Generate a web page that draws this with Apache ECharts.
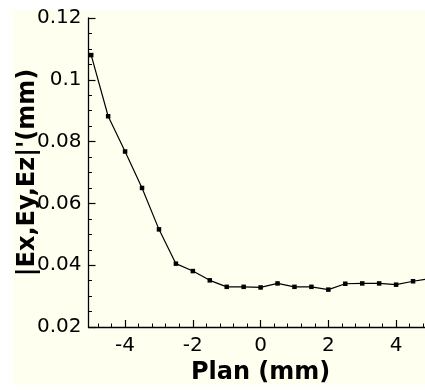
<!DOCTYPE html>
<html>
<head>
<meta charset="utf-8">
<script src="https://cdn.jsdelivr.net/npm/echarts@6/dist/echarts.min.js"></script>
<style>
html,body{margin:0;padding:0;background:#ffffff;}
#chart{width:425px;height:390px;}
</style>
</head>
<body>
<div id="chart"></div>
<script>
// Data
const planX = [-5, -4.5, -4, -3.5, -3, -2.5, -2, -1.5, -1, -0.5, 0, 0.5, 1, 1.5, 2, 2.5, 3, 3.5, 4, 4.5, 5];
const errValues = [0.108, 0.0882, 0.0768, 0.065, 0.0516, 0.0405, 0.0381, 0.0351, 0.033, 0.033, 0.0328, 0.0341, 0.033, 0.033, 0.0321, 0.034, 0.0341, 0.0341, 0.0337, 0.0348, 0.0357];
const xTickValues = [-4, -2, 0, 2, 4];
const xTickLabels = ['-4', '-2', '0', '2', '4'];
const xMinorTicks = [-4.8, -4.4, -3.6, -3.2, -2.8, -2.4, -1.6, -1.2, -0.8, -0.4, 0.4, 0.8, 1.2, 1.6, 2.4, 2.8, 3.2, 3.6, 4.4, 4.8];
const yTickLabels = ['0.02', '0.04', '0.06', '0.08', '0.1', '0.12'];
const xTitle = 'Plan (mm)';
const yTitle = "|Ex,Ey,Ez|'(mm)";

const seriesData = planX.map((x, i) => [x, errValues[i]]);

const chart = echarts.init(document.getElementById('chart'), null, {renderer: 'canvas'});
const labelFont = {fontFamily: 'DejaVu Sans', fontSize: 20, color: '#000'};
const titleFont = {fontFamily: 'DejaVu Sans', fontSize: 24, fontWeight: 'bold', color: '#000'};

chart.setOption({
  animation: false,
  backgroundColor: '#ffffff',
  graphic: [{
    type: 'rect', z: -100, silent: true,
    shape: {x: 13, y: 10, width: 412, height: 375},
    style: {fill: '#fffff0'}
  }],
  grid: {left: 88.5, top: 18, bottom: 63, right: -7.7, containLabel: false, outerBoundsMode: 'none'},
  xAxis: [{
    type: 'value', min: -5.08, max: 5.08,
    name: xTitle, nameLocation: 'middle', nameGap: 31,
    nameTextStyle: titleFont,
    axisLine: {show: true, onZero: false, lineStyle: {color: '#000', width: 1.3}},
    axisTick: {show: true, inside: true, length: 7, customValues: xTickValues, lineStyle: {color: '#000', width: 1.2}},
    axisLabel: Object.assign({margin: 9, customValues: xTickValues,
      formatter: (v) => xTickLabels[xTickValues.indexOf(v)]}, labelFont),
    splitLine: {show: false}
  }, {
    type: 'value', min: -5.08, max: 5.08, position: 'bottom',
    axisLine: {show: false},
    axisTick: {show: true, inside: true, length: 3.5, customValues: xMinorTicks, lineStyle: {color: '#000', width: 1}},
    axisLabel: {show: false},
    splitLine: {show: false}
  }],
  yAxis: {
    type: 'value', min: 0.02, max: 0.12, interval: 0.02,
    name: yTitle, nameLocation: 'middle', nameGap: 49, nameMoveOverlap: false,
    nameTextStyle: titleFont,
    axisLine: {show: true, onZero: false, lineStyle: {color: '#000', width: 1.3}},
    axisTick: {show: true, inside: true, length: 7, lineStyle: {color: '#000', width: 1.2}},
    minorTick: {show: true, splitNumber: 4, length: 3.5, lineStyle: {color: '#000', width: 1}},
    axisLabel: Object.assign({margin: 7, formatter: (v, i) => yTickLabels[i]}, labelFont),
    splitLine: {show: false}
  },
  series: [{
    type: 'line', xAxisIndex: 0,
    data: seriesData,
    symbol: 'rect', symbolSize: 4.5,
    lineStyle: {color: '#000', width: 1.2},
    itemStyle: {color: '#000'},
    clip: true
  }]
});
</script>
</body>
</html>
